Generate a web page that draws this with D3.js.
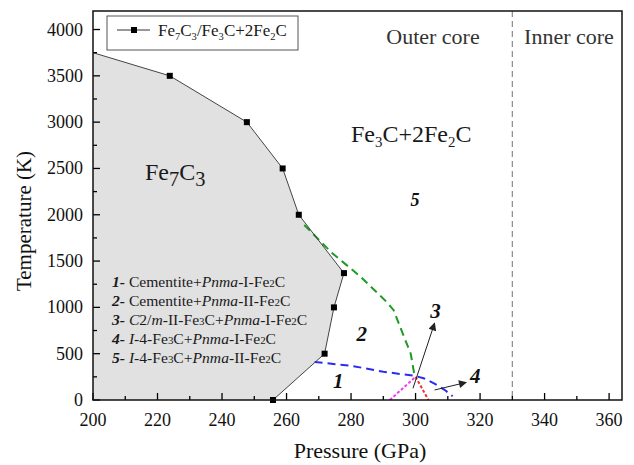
<!DOCTYPE html>
<html>
<head>
<meta charset="utf-8">
<script src="https://cdn.jsdelivr.net/npm/d3@7"></script>
<style>
  body { margin: 0; background: #fff; }
  text { font-family: "Liberation Serif", "Times New Roman", Times, serif; }
</style>
</head>
<body>
<svg id="svg" width="634" height="465" font-family="Liberation Serif, Times New Roman, serif"></svg>
<script>
// Fe7C3 / Fe3C+2Fe2C boundary (square markers)
const boundaryP = [200, 223.8, 247.7, 258.8, 263.8, 277.8, 274.7, 271.8, 255.8];
const boundaryT = [3750, 3500, 3000, 2500, 2000, 1370, 1000, 500, 0];

// phase lines between regions 1-5
const greenP = [265.5, 274, 283, 291, 293.2, 296, 298.5, 299.7];
const greenT = [1890, 1590, 1330, 1060, 970, 720, 500, 260];
const blueP = [268.7, 280, 290, 299.5, 302.5, 306, 309, 311.5];
const blueT = [410, 370, 305, 262, 235, 175, 110, 40];
const magentaP = [292, 296, 300];
const magentaT = [0, 125, 250];
const redP = [300, 302, 304];
const redT = [250, 125, 0];

const xTicks = [200, 220, 240, 260, 280, 300, 320, 340, 360];
const yTicks = [0, 500, 1000, 1500, 2000, 2500, 3000, 3500, 4000];
const coreBoundary = 330;

// region number labels [P, T, text]
const regionLabels = [[276, 130, '1'], [283.3, 635, '2'], [306.2, 880, '3'], [318.5, 180, '4'], [299.8, 2100, '5']];
// arrows [fromP, fromT, toP, toT]
const arrows = [[299.2, 126, 305.9, 830], [305.9, 108, 315.7, 190]];

const legendLines = [
  [['1-', 'bi'], [' Cementite+', 'n'], ['Pnma', 'i'], ['-I-Fe', 'n'], ['2', 'small'], ['C', 'n']],
  [['2-', 'bi'], [' Cementite+', 'n'], ['Pnma', 'i'], ['-II-Fe', 'n'], ['2', 'small'], ['C', 'n']],
  [['3-', 'bi'], [' ', 'n'], ['C', 'i'], ['2/', 'n'], ['m', 'i'], ['-II-Fe', 'n'], ['3', 'small'], ['C+', 'n'], ['Pnma', 'i'], ['-I-Fe', 'n'], ['2', 'small'], ['C', 'n']],
  [['4-', 'bi'], [' ', 'n'], ['I', 'i'], ['-4-Fe', 'n'], ['3', 'small'], ['C+', 'n'], ['Pnma', 'i'], ['-I-Fe', 'n'], ['2', 'small'], ['C', 'n']],
  [['5-', 'bi'], [' ', 'n'], ['I', 'i'], ['-4-Fe', 'n'], ['3', 'small'], ['C+', 'n'], ['Pnma', 'i'], ['-II-Fe', 'n'], ['2', 'small'], ['C', 'n']]
];

const svg = d3.select('#svg');
const x = d3.scaleLinear().domain([200, 364]).range([93, 622]);
const y = d3.scaleLinear().domain([0, 4200]).range([400, 11]);

const zip = (ps, ts) => ps.map((p, i) => [p, ts[i]]);
const line = d3.line().x((d) => x(d[0])).y((d) => y(d[1]));

// rich text: parts are [text, kind]
const richText = (g, px, py, parts, size, anchor) => {
  const t = g.append('text').attr('x', px).attr('y', py).attr('font-size', size).attr('fill', '#1a1a1a');
  if (anchor) t.attr('text-anchor', anchor);
  parts.forEach(([s, k]) => {
    const sp = t.append('tspan').text(s);
    if (k === 'i' || k === 'bi') sp.attr('font-style', 'italic');
    if (k === 'b' || k === 'bi') sp.attr('font-weight', 'bold');
    if (k === 'small') sp.attr('font-size', size * 0.7);
    if (k === 'sub') sp.attr('font-size', size * 0.62).attr('baseline-shift', '-35%');
    if (k === 'sub2') sp.attr('font-size', size * 0.85).attr('baseline-shift', '-28%');
  });
  return t;
};

svg.append('defs').append('clipPath').attr('id', 'clip')
  .append('rect').attr('x', 93).attr('y', 11).attr('width', 529).attr('height', 389);

const plot = svg.append('g').attr('clip-path', 'url(#clip)');

// grey Fe7C3 field
const boundary = zip(boundaryP, boundaryT);
plot.append('path')
  .attr('d', line([[200, 0]].concat(boundary)) + 'Z')
  .attr('fill', '#e1e1e1');

// core boundary
plot.append('line')
  .attr('x1', x(coreBoundary)).attr('x2', x(coreBoundary))
  .attr('y1', y(4200)).attr('y2', y(0))
  .attr('stroke', '#8a8a8a').attr('stroke-width', 1.2).attr('stroke-dasharray', '6,4');

plot.append('path').attr('d', line(zip(greenP, greenT)))
  .attr('fill', 'none').attr('stroke', '#1e9a24').attr('stroke-width', 2).attr('stroke-dasharray', '8,5');
plot.append('path').attr('d', line(zip(blueP, blueT)))
  .attr('fill', 'none').attr('stroke', '#2a2cf0').attr('stroke-width', 2).attr('stroke-dasharray', '8,5');
plot.append('path').attr('d', line(zip(magentaP, magentaT)))
  .attr('fill', 'none').attr('stroke', '#f03cf0').attr('stroke-width', 2).attr('stroke-dasharray', '3,2');
plot.append('path').attr('d', line(zip(redP, redT)))
  .attr('fill', 'none').attr('stroke', '#f03030').attr('stroke-width', 2).attr('stroke-dasharray', '3,2');

// boundary line with markers
plot.append('path').attr('d', line(boundary))
  .attr('fill', 'none').attr('stroke', '#444').attr('stroke-width', 1);
svg.append('g').selectAll('rect').data(boundary.filter((d) => d[0] > 200)).join('rect')
  .attr('x', (d) => x(d[0]) - 3).attr('y', (d) => y(d[1]) - 3)
  .attr('width', 6).attr('height', 6).attr('fill', '#000');

// arrows
const defs = svg.select('defs');
defs.append('marker').attr('id', 'arr').attr('viewBox', '0 0 10 10')
  .attr('refX', 9).attr('refY', 5).attr('markerWidth', 10).attr('markerHeight', 8)
  .attr('markerUnits', 'userSpaceOnUse').attr('orient', 'auto')
  .append('path').attr('d', 'M0,0L10,5L0,10Z').attr('fill', '#222');
svg.append('g').selectAll('line').data(arrows).join('line')
  .attr('x1', (d) => x(d[0])).attr('y1', (d) => y(d[1]))
  .attr('x2', (d) => x(d[2])).attr('y2', (d) => y(d[3]))
  .attr('stroke', '#222').attr('stroke-width', 1).attr('marker-end', 'url(#arr)');

// region numbers
svg.append('g').selectAll('text').data(regionLabels).join('text')
  .attr('x', (d) => x(d[0])).attr('y', (d) => y(d[1]))
  .attr('text-anchor', 'middle').attr('font-size', (d) => d[2] === '5' ? 18 : 21)
  .attr('font-weight', 'bold').attr('font-style', 'italic').attr('fill', '#111')
  .text((d) => d[2]);

// axes (inward ticks)
const xAxis = svg.append('g').attr('transform', 'translate(0,400)');
xAxis.selectAll('line').data(d3.range(200, 365, 10)).join('line')
  .attr('x1', (d) => x(d)).attr('x2', (d) => x(d))
  .attr('y1', 0).attr('y2', (d) => d % 20 === 0 ? -7 : -4)
  .attr('stroke', '#000').attr('stroke-width', 1.3);
xAxis.selectAll('text').data(xTicks).join('text')
  .attr('x', (d) => x(d)).attr('y', 26).attr('text-anchor', 'middle')
  .attr('font-size', 18).attr('fill', '#111').text((d) => d);

const yAxis = svg.append('g').attr('transform', 'translate(93,0)');
yAxis.selectAll('line').data(d3.range(0, 4201, 250)).join('line')
  .attr('y1', (d) => y(d)).attr('y2', (d) => y(d))
  .attr('x1', 0).attr('x2', (d) => d % 500 === 0 ? 7 : 4)
  .attr('stroke', '#000').attr('stroke-width', 1.3);
yAxis.selectAll('text').data(yTicks).join('text')
  .attr('x', -10).attr('y', (d) => y(d) + 6).attr('text-anchor', 'end')
  .attr('font-size', 18).attr('fill', '#111').text((d) => d);

// frame
svg.append('rect').attr('x', 93).attr('y', 11).attr('width', 529).attr('height', 389)
  .attr('fill', 'none').attr('stroke', '#111').attr('stroke-width', 1.5);

// axis titles
svg.append('text').attr('x', 360).attr('y', 458).attr('text-anchor', 'middle')
  .attr('font-size', 22).attr('fill', '#111').text('Pressure (GPa)');
svg.append('text').attr('transform', 'translate(31,221) rotate(-90)').attr('text-anchor', 'middle')
  .attr('font-size', 21).attr('fill', '#111').text('Temperature (K)');

// region names
svg.append('text').attr('x', 433).attr('y', 44).attr('text-anchor', 'middle')
  .attr('font-size', 22).attr('fill', '#333').text('Outer core');
svg.append('text').attr('x', 569).attr('y', 44).attr('text-anchor', 'middle')
  .attr('font-size', 22).attr('fill', '#333').text('Inner core');
richText(svg, 145, 180, [['Fe', 'n'], ['7', 'sub2'], ['C', 'n'], ['3', 'sub2']], 24);
richText(svg, 351, 142, [['Fe', 'n'], ['3', 'sub'], ['C+2Fe', 'n'], ['2', 'sub'], ['C', 'n']], 24);

// phase list
legendLines.forEach((parts, i) => {
  richText(svg, 112, 287 + i * 19, parts, 15.6);
});

// legend box
const lg = svg.append('g');
lg.append('rect').attr('x', 107).attr('y', 16).attr('width', 191).attr('height', 34)
  .attr('fill', '#fff').attr('stroke', '#555').attr('stroke-width', 1);
lg.append('line').attr('x1', 117).attr('x2', 150).attr('y1', 30).attr('y2', 30)
  .attr('stroke', '#333').attr('stroke-width', 1);
lg.append('rect').attr('x', 131).attr('y', 27).attr('width', 6).attr('height', 6).attr('fill', '#000');
richText(lg, 158, 36, [['Fe', 'n'], ['7', 'sub'], ['C', 'n'], ['3', 'sub'], ['/Fe', 'n'], ['3', 'sub'], ['C+2Fe', 'n'], ['2', 'sub'], ['C', 'n']], 17);
</script>
</body>
</html>
